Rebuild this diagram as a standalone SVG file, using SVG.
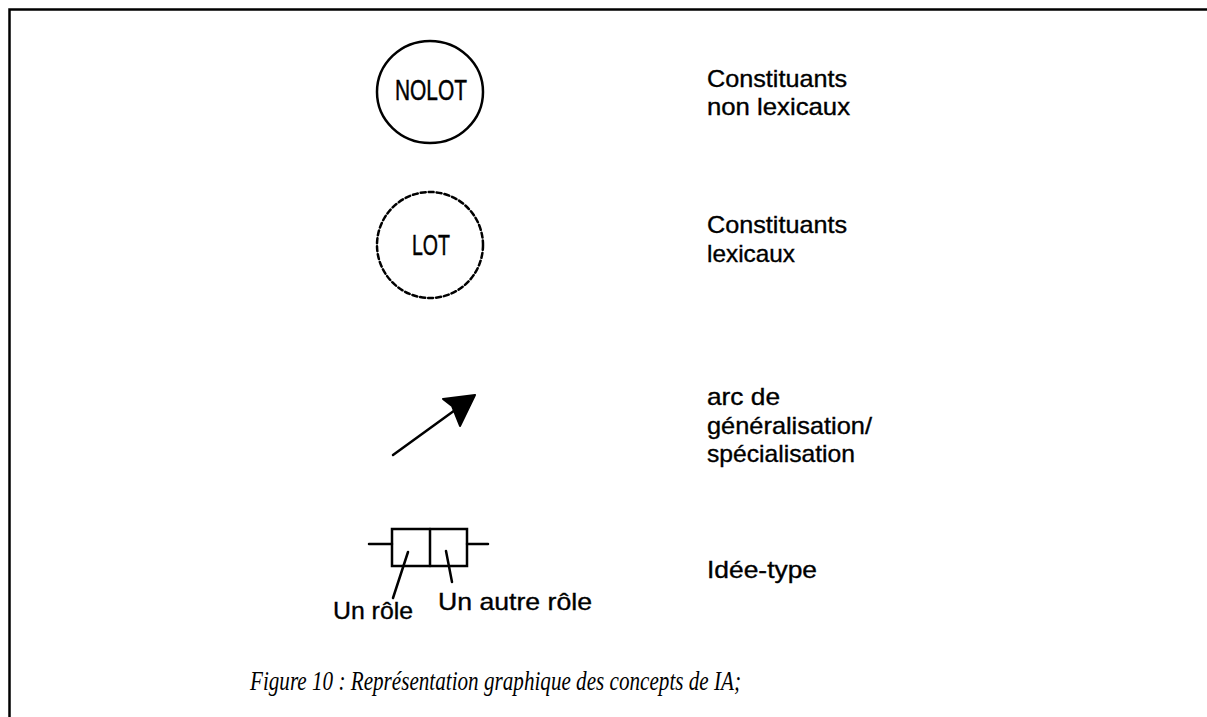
<svg xmlns="http://www.w3.org/2000/svg" width="1207" height="717" viewBox="0 0 1207 717">
<style>
.lbl{font-family:"Liberation Sans","DejaVu Sans",sans-serif;font-size:24px;fill:#000;stroke:#000;stroke-width:0.35}
.in{font-family:"Liberation Sans","DejaVu Sans",sans-serif;font-size:30px;fill:#000;stroke:#000;stroke-width:0.5}
.ln{stroke:#000;stroke-width:2.5;fill:none;stroke-linecap:round}
.cap{font-family:"Liberation Serif","DejaVu Serif",serif;font-style:italic;font-size:27px;fill:#000}
</style>
<rect width="1207" height="717" fill="#fff"/>
<g id="frame"><path d="M9.5 730 V9.5 H1220" class="ln" stroke-width="2.5"/></g>
<g id="nolot">
<ellipse cx="430" cy="92" rx="53" ry="51" class="ln"/>
<text x="431" y="100" class="in" text-anchor="middle" textLength="72" lengthAdjust="spacingAndGlyphs">NOLOT</text>
</g>
<g id="lot">
<circle cx="430" cy="245" r="53" class="ln" stroke-dasharray="5 3"/>
<text x="431" y="255" class="in" text-anchor="middle" textLength="38" lengthAdjust="spacingAndGlyphs">LOT</text>
</g>
<g id="legend-nolot">
<text x="707" y="87" class="lbl" textLength="140" lengthAdjust="spacingAndGlyphs">Constituants</text>
<text x="707" y="115" class="lbl" textLength="143" lengthAdjust="spacingAndGlyphs">non lexicaux</text>
</g>
<g id="legend-lot">
<text x="707" y="233" class="lbl" textLength="140" lengthAdjust="spacingAndGlyphs">Constituants</text>
<text x="707" y="262" class="lbl" textLength="88" lengthAdjust="spacingAndGlyphs">lexicaux</text>
</g>
<g id="connectors">
<line x1="393" y1="455" x2="462" y2="405" class="ln" stroke-width="3"/>
<polygon points="475,395 443,399 452,406 460,426" fill="#000" stroke="#000" stroke-width="2" stroke-linejoin="round"/>
</g>
<g id="legend-arc">
<text x="707" y="405" class="lbl" textLength="73" lengthAdjust="spacingAndGlyphs">arc de</text>
<text x="707" y="434" class="lbl" textLength="165" lengthAdjust="spacingAndGlyphs">généralisation/</text>
<text x="707" y="462" class="lbl" textLength="148" lengthAdjust="spacingAndGlyphs">spécialisation</text>
</g>
<g id="idee-type">
<line x1="369" y1="544" x2="392" y2="544" class="ln"/>
<rect x="392" y="529" width="75" height="37" class="ln"/>
<line x1="430" y1="529" x2="430" y2="566" class="ln"/>
<line x1="467" y1="544" x2="488" y2="544" class="ln"/>
<line x1="408" y1="552" x2="393" y2="598" class="ln"/>
<line x1="446" y1="551" x2="452" y2="582" class="ln"/>
<text x="333" y="619" class="lbl" textLength="80" lengthAdjust="spacingAndGlyphs">Un rôle</text>
<text x="438" y="610" class="lbl" textLength="154" lengthAdjust="spacingAndGlyphs">Un autre rôle</text>
</g>
<g id="legend-idee">
<text x="707" y="578" class="lbl" textLength="110" lengthAdjust="spacingAndGlyphs">Idée-type</text>
</g>
<text x="250" y="690" class="cap" textLength="491" lengthAdjust="spacingAndGlyphs">Figure 10 : Représentation graphique des concepts de IA;</text>
</svg>
